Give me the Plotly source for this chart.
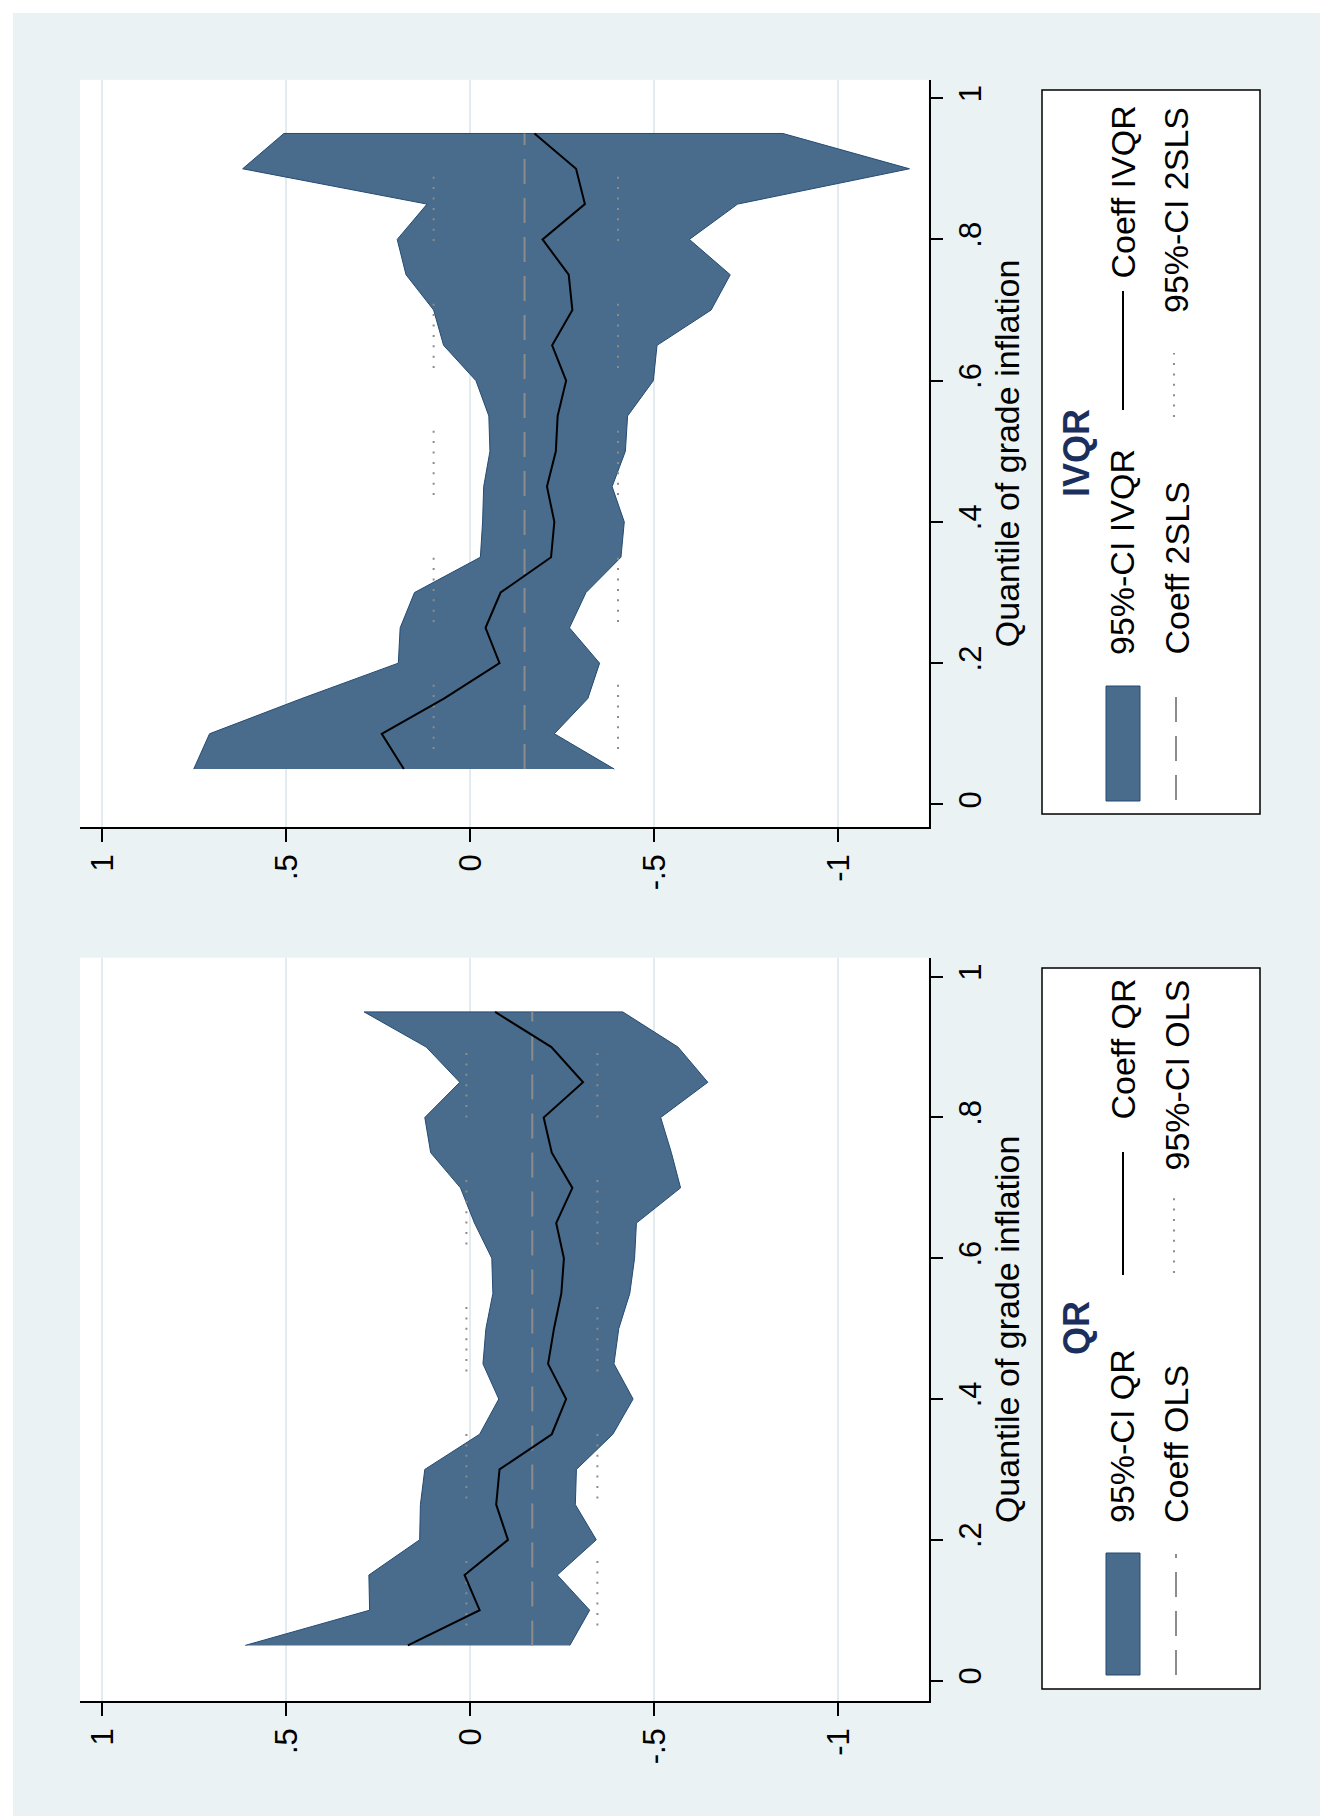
import plotly.graph_objects as go

W, H = 1328, 1816

# ---------------- data ----------------
quantiles = [0.05, 0.10, 0.15, 0.20, 0.25, 0.30, 0.35, 0.40, 0.45, 0.50,
             0.55, 0.60, 0.65, 0.70, 0.75, 0.80, 0.85, 0.90, 0.95]

# IVQR panel
ivqr_ci_upper = [0.752, 0.709, 0.458, 0.196, 0.191, 0.152, -0.027, -0.033, -0.036, -0.053,
                 -0.050, -0.015, 0.073, 0.100, 0.175, 0.199, 0.118, 0.619, 0.507]
ivqr_ci_lower = [-0.391, -0.228, -0.319, -0.351, -0.269, -0.314, -0.409, -0.418, -0.385, -0.421,
                 -0.427, -0.497, -0.507, -0.654, -0.706, -0.595, -0.726, -1.193, -0.849]
ivqr_coef = [0.181, 0.241, 0.071, -0.079, -0.041, -0.082, -0.219, -0.228, -0.208, -0.232,
             -0.237, -0.260, -0.222, -0.277, -0.267, -0.196, -0.311, -0.287, -0.174]
tsls_coef = -0.147
tsls_ci = [0.100, -0.401]

# QR panel
qr_ci_upper = [0.612, 0.274, 0.276, 0.138, 0.136, 0.124, -0.025, -0.077, -0.034, -0.042,
               -0.061, -0.058, -0.011, 0.027, 0.108, 0.124, 0.029, 0.120, 0.289]
qr_ci_lower = [-0.270, -0.324, -0.236, -0.342, -0.285, -0.288, -0.387, -0.442, -0.390, -0.403,
               -0.433, -0.446, -0.451, -0.571, -0.546, -0.517, -0.645, -0.564, -0.414]
qr_coef = [0.170, -0.025, 0.016, -0.102, -0.070, -0.079, -0.221, -0.260, -0.211, -0.227,
           -0.247, -0.254, -0.233, -0.277, -0.221, -0.199, -0.306, -0.220, -0.067]
ols_coef = -0.168
ols_ci = [0.011, -0.345]

coef_ticks = [1, 0.5, 0, -0.5, -1]
coef_ticktext = ["1", ".5", "0", "-.5", "-1"]
q_ticks = [0, 0.2, 0.4, 0.6, 0.8, 1]
q_ticktext = ["0", ".2", ".4", ".6", ".8", "1"]

axis_title = "Quantile of grade inflation"
panel_titles = ["IVQR", "QR"]
legend_labels = [
    ["95%-CI IVQR", "Coeff IVQR", "Coeff 2SLS", "95%-CI 2SLS"],
    ["95%-CI QR", "Coeff QR", "Coeff OLS", "95%-CI OLS"],
]

# ---------------- style ----------------
FONT = "Liberation Sans, Arial, sans-serif"
BG = "#EAF2F3"
BAND = "#496B8C"
BAND_LINE = "#244B73"
GRAY = "#8C8C8C"
GRID = "#E2EBEE"
NAVY = "#1B2F5E"
DOT = "0px,20px," + ",".join(["2px,8.4px"] * 6) + ",2px,42.6px"
DASH = "25px,14px"


def px(X):
    return X / W


def py(Y):
    return 1 - Y / H


fig = go.Figure()

panels = [
    dict(xa="x", ya="y", hi=ivqr_ci_upper, lo=ivqr_ci_lower, coef=ivqr_coef,
         ref=tsls_coef, ref_ci=tsls_ci),
    dict(xa="x2", ya="y2", hi=qr_ci_upper, lo=qr_ci_lower, coef=qr_coef,
         ref=ols_coef, ref_ci=ols_ci),
]

for p in panels:
    n = len(quantiles)
    fig.add_trace(go.Scatter(
        x=list(p["hi"]) + list(p["lo"])[::-1],
        y=list(quantiles) + list(quantiles)[::-1],
        fill="toself", fillcolor=BAND, mode="lines",
        line=dict(color=BAND_LINE, width=1),
        xaxis=p["xa"], yaxis=p["ya"], showlegend=False, hoverinfo="skip"))
    for v in p["ref_ci"]:
        fig.add_trace(go.Scatter(
            x=[v] * n, y=quantiles, mode="lines",
            line=dict(color=GRAY, width=2, dash=DOT),
            xaxis=p["xa"], yaxis=p["ya"], showlegend=False))
    fig.add_trace(go.Scatter(
        x=[p["ref"]] * n, y=quantiles, mode="lines",
        line=dict(color=GRAY, width=2, dash=DASH),
        xaxis=p["xa"], yaxis=p["ya"], showlegend=False))
    fig.add_trace(go.Scatter(
        x=p["coef"], y=quantiles, mode="lines",
        line=dict(color="black", width=2),
        xaxis=p["xa"], yaxis=p["ya"], showlegend=False))

tickfont = dict(family=FONT, size=31, color="black")
xcommon = dict(range=[1.061, -1.245], tickvals=coef_ticks, ticktext=coef_ticktext,
               tickangle=-90, ticks="outside", ticklen=13, tickwidth=1.5, tickcolor="black",
               showline=True, linecolor="black", linewidth=1.5, showgrid=True,
               gridcolor=GRID, gridwidth=2, zeroline=False, tickfont=tickfont,
               domain=[px(72), px(920.6)], fixedrange=True)
ycommon = dict(side="right", tickvals=q_ticks, ticktext=q_ticktext, tickangle=-90,
               ticks="outside", ticklen=13, tickwidth=1.5, tickcolor="black",
               showline=True, linecolor="black", linewidth=1.5, showgrid=False,
               zeroline=False, tickfont=tickfont, fixedrange=True,
               title=dict(text=axis_title, font=dict(family=FONT, size=34, color="black"),
                          standoff=2))

fig.update_layout(
    width=W, height=H, autosize=False,
    margin=dict(l=0, r=0, t=0, b=0),
    paper_bgcolor=BG, plot_bgcolor="white",
    showlegend=False,
    font=dict(family=FONT, color="black"),
    xaxis=dict(anchor="y", **xcommon),
    yaxis=dict(anchor="x", domain=[py(819), py(71.8)], range=[-0.032, 1.026], **ycommon),
    xaxis2=dict(anchor="y2", **xcommon),
    yaxis2=dict(anchor="x2", domain=[py(1693), py(949.7)], range=[-0.029, 1.027], **ycommon),
)

# ---------------- hand-drawn rotated legends ----------------
legend_geo = [
    dict(box=(1034, 82, 1252, 806), title_y=445, rect=(678, 793), lab1=649,
         solid=(283, 402), lab2=273, dashed=(688, 792), lab3=649, dotted=(345, 409), lab4=307),
    dict(box=(1034, 960, 1252, 1681), title_y=1320, rect=(1545, 1667), lab1=1517,
         solid=(1144, 1267), lab2=1114, dashed=(1546, 1667), lab3=1517, dotted=(1190, 1265), lab4=1165),
]

shapes = [
    # thin white outer frame on the left and top edges
    dict(type="rect", xref="paper", yref="paper", x0=0, x1=px(5), y0=0, y1=1,
         fillcolor="white", line=dict(width=0)),
    dict(type="rect", xref="paper", yref="paper", x0=0, x1=1, y0=py(5), y1=1,
         fillcolor="white", line=dict(width=0)),
]
annotations = []
lab_font = dict(family=FONT, size=34, color="black")
for g, title, labels in zip(legend_geo, panel_titles, legend_labels):
    x0, y0, x1, y1 = g["box"]
    shapes.append(dict(type="rect", xref="paper", yref="paper",
                       x0=px(x0), x1=px(x1), y0=py(y1), y1=py(y0),
                       fillcolor="white", line=dict(color="black", width=1.5), layer="below"))
    shapes.append(dict(type="rect", xref="paper", yref="paper",
                       x0=px(1098), x1=px(1132), y0=py(g["rect"][1]), y1=py(g["rect"][0]),
                       fillcolor=BAND, line=dict(color=BAND_LINE, width=1)))
    shapes.append(dict(type="line", xref="paper", yref="paper",
                       x0=px(1115), x1=px(1115), y0=py(g["solid"][1]), y1=py(g["solid"][0]),
                       line=dict(color="black", width=2)))
    shapes.append(dict(type="line", xref="paper", yref="paper",
                       x0=px(1168), x1=px(1168), y0=py(g["dashed"][1]), y1=py(g["dashed"][0]),
                       line=dict(color=GRAY, width=2, dash=DASH)))
    shapes.append(dict(type="line", xref="paper", yref="paper",
                       x0=px(1166), x1=px(1166), y0=py(g["dotted"][1]), y1=py(g["dotted"][0]),
                       line=dict(color=GRAY, width=2, dash="2px,8.4px")))
    annotations.append(dict(text="<b>%s</b>" % title, xref="paper", yref="paper",
                            x=px(1068), y=py(g["title_y"]), xanchor="center", yanchor="middle",
                            textangle=-90, showarrow=False,
                            font=dict(family=FONT, size=36, color=NAVY)))
    for txt, xc, ys in [(labels[0], 1114, g["lab1"]), (labels[1], 1114, g["lab2"]),
                        (labels[2], 1168, g["lab3"]), (labels[3], 1168, g["lab4"])]:
        annotations.append(dict(text=txt, xref="paper", yref="paper",
                                x=px(xc), y=py(ys), xanchor="center", yanchor="bottom",
                                textangle=-90, showarrow=False, font=lab_font))

fig.update_layout(shapes=shapes, annotations=annotations)

fig.write_html("out.html")
